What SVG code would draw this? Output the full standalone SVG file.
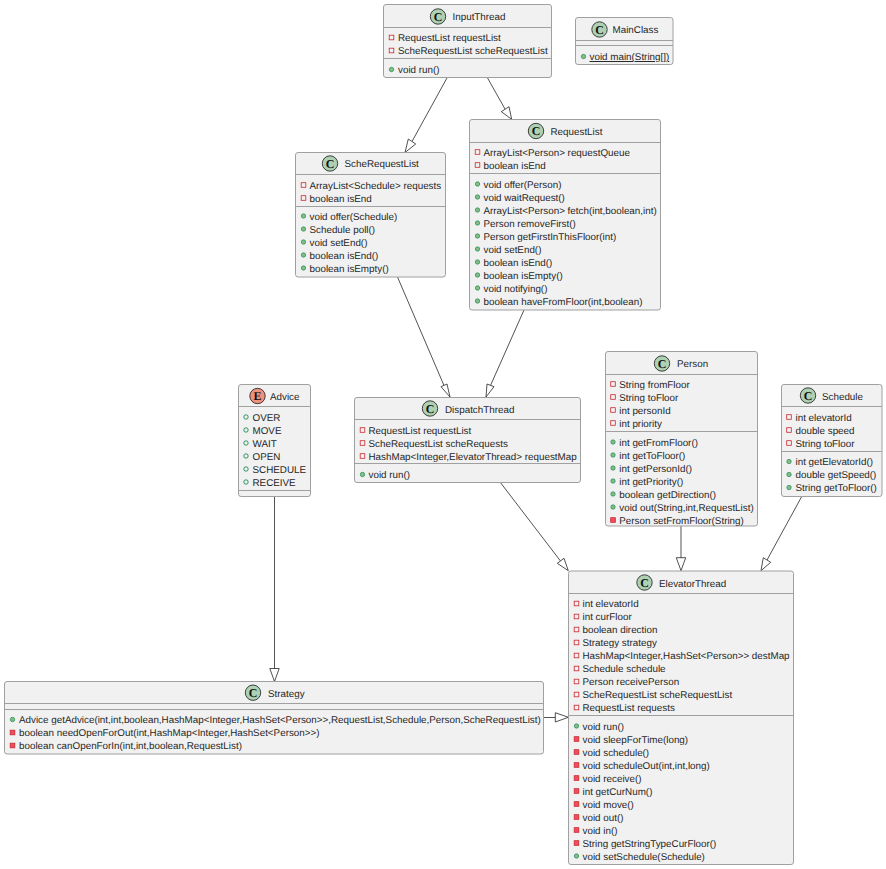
<svg xmlns="http://www.w3.org/2000/svg" width="886" height="869" viewBox="0 0 886 869">
<style>
text{font-family:"Liberation Sans",Arial,sans-serif;font-size:9.83px;fill:#262626;text-rendering:geometricPrecision}
.b{fill:#f1f1f1;stroke:#a0a0a0;stroke-width:1}
.s{stroke:#a0a0a0;stroke-width:1;fill:none}
.t{text-anchor:start}
.ic{stroke:#181818;stroke-width:.8}
.c{fill:#add1b2}.e{fill:#eb937f}
text.l{font-family:"Liberation Serif",serif;font-weight:bold;font-size:12px;text-anchor:middle;fill:#111}
.pf{fill:none;stroke:#c82930;stroke-width:.8}
.pm{fill:#f24d5c;stroke:#c82930;stroke-width:.8}
.uf{fill:#84be84;stroke:#038048;stroke-width:.6}
.ef{fill:none;stroke:#038048;stroke-width:.8}
.cn{fill:none;stroke:#181818;stroke-width:.75}
.ah{fill:#fff;stroke:#181818;stroke-width:.75}
</style>
<defs>
<rect id="pf" class="pf" x="-2.300" y="-2.300" width="4.600" height="4.600"/>
<rect id="pm" class="pm" x="-2.300" y="-2.300" width="4.600" height="4.600"/>
<circle id="uf" class="uf" r="2.200"/>
<circle id="ef" class="ef" r="2.200"/>
</defs>
<g id="connectors">
<path class="cn" d="M447.500 77L412 141.500"/><path class="ah" d="M405 152.500L408.300 139L415.700 144Z"/>
<path class="cn" d="M487 77L505 109"/><path class="ah" d="M511.700 119.300L501.300 111.700L509 106.700Z"/>
<path class="cn" d="M397.500 277L444 385.500"/><path class="ah" d="M450 397L441 386.700L447 384Z"/>
<path class="cn" d="M524 310L490.500 385.500"/><path class="ah" d="M486 397L487 384L494 386.700Z"/>
<path class="cn" d="M500 482L560.500 561"/><path class="ah" d="M568.300 570.700L557.300 563.300L564 558.300Z"/>
<path class="cn" d="M681 526L681 558"/><path class="ah" d="M681 570.700L676.300 557.700L685.700 557.700Z"/>
<path class="cn" d="M802 496L767 560"/><path class="ah" d="M761 570.700L763.300 557.700L770.700 562.300Z"/>
<path class="cn" d="M274.500 496L274.500 669"/><path class="ah" d="M274.500 681.500L269.800 668.500L279.200 668.500Z"/>
<path class="cn" d="M543.500 717.500L555.500 717.500"/><path class="ah" d="M568.300 717.300L555.300 712.700L555.300 722Z"/>
</g>
<g id="InputThread">
<rect class="b" x="383.500" y="4.500" width="168" height="73" rx="2.500"/>
<path class="s" d="M383.500 27.500H551.500M383.500 58.500H551.500"/>
<circle class="ic c" cx="438" cy="16.500" r="7.700"/><text class="l" x="438" y="20.500">C</text>
<text class="t" x="452.500" y="20.300">InputThread</text>
<use href="#pf" x="391.500" y="37.500"/><text class="t" x="398" y="41">RequestList requestList</text>
<use href="#pf" x="391.500" y="50.500"/><text class="t" x="398" y="54">ScheRequestList scheRequestList</text>
<use href="#uf" x="391.500" y="69.500"/><text class="t" x="398" y="73">void run()</text>
</g>
<g id="MainClass">
<rect class="b" x="575.500" y="17.500" width="97.500" height="47" rx="2.500"/>
<path class="s" d="M575.500 40.500H673M575.500 45.500H673"/>
<circle class="ic c" cx="599.500" cy="29.500" r="7.700"/><text class="l" x="599.500" y="33.500">C</text>
<text class="t" x="612.500" y="33.300">MainClass</text>
<use href="#uf" x="583.500" y="56.500"/><text class="t" x="589.500" y="60" text-decoration="underline">void main(String[])</text>
</g>
<g id="RequestList">
<rect class="b" x="469.500" y="119.500" width="191" height="190.500" rx="2.500"/>
<path class="s" d="M469.500 142.500H660.500M469.500 173.500H660.500"/>
<circle class="ic c" cx="536" cy="131" r="7.700"/><text class="l" x="536" y="135">C</text>
<text class="t" x="550.500" y="135">RequestList</text>
<use href="#pf" x="477.500" y="152"/><text class="t" x="483.500" y="155.500">ArrayList&lt;Person&gt; requestQueue</text>
<use href="#pf" x="477.500" y="165"/><text class="t" x="483.500" y="168.500">boolean isEnd</text>
<use href="#uf" x="477.500" y="184"/><text class="t" x="483.500" y="187.500">void offer(Person)</text>
<use href="#uf" x="477.500" y="197"/><text class="t" x="483.500" y="200.500">void waitRequest()</text>
<use href="#uf" x="477.500" y="210"/><text class="t" x="483.500" y="213.500">ArrayList&lt;Person&gt; fetch(int,boolean,int)</text>
<use href="#uf" x="477.500" y="223"/><text class="t" x="483.500" y="226.500">Person removeFirst()</text>
<use href="#uf" x="477.500" y="236"/><text class="t" x="483.500" y="239.500">Person getFirstInThisFloor(int)</text>
<use href="#uf" x="477.500" y="249"/><text class="t" x="483.500" y="252.500">void setEnd()</text>
<use href="#uf" x="477.500" y="262"/><text class="t" x="483.500" y="265.500">boolean isEnd()</text>
<use href="#uf" x="477.500" y="275"/><text class="t" x="483.500" y="278.500">boolean isEmpty()</text>
<use href="#uf" x="477.500" y="288"/><text class="t" x="483.500" y="291.500">void notifying()</text>
<use href="#uf" x="477.500" y="301"/><text class="t" x="483.500" y="304.500">boolean haveFromFloor(int,boolean)</text>
</g>
<g id="ScheRequestList">
<rect class="b" x="295.500" y="152.500" width="150" height="124.500" rx="2.500"/>
<path class="s" d="M295.500 174.500H445.500M295.500 206.500H445.500"/>
<circle class="ic c" cx="330" cy="163.500" r="7.700"/><text class="l" x="330" y="167.500">C</text>
<text class="t" x="344.500" y="167.300">ScheRequestList</text>
<use href="#pf" x="303.500" y="185"/><text class="t" x="309.500" y="188.500">ArrayList&lt;Schedule&gt; requests</text>
<use href="#pf" x="303.500" y="198"/><text class="t" x="309.500" y="201.500">boolean isEnd</text>
<use href="#uf" x="303.500" y="216"/><text class="t" x="309.500" y="219.500">void offer(Schedule)</text>
<use href="#uf" x="303.500" y="229"/><text class="t" x="309.500" y="232.500">Schedule poll()</text>
<use href="#uf" x="303.500" y="242"/><text class="t" x="309.500" y="245.500">void setEnd()</text>
<use href="#uf" x="303.500" y="255"/><text class="t" x="309.500" y="258.500">boolean isEnd()</text>
<use href="#uf" x="303.500" y="268"/><text class="t" x="309.500" y="271.500">boolean isEmpty()</text>
</g>
<g id="Advice">
<rect class="b" x="238.500" y="384.500" width="72" height="112" rx="2.500"/>
<path class="s" d="M238.500 406.500H310.500M238.500 490.500H310.500"/>
<circle class="ic e" cx="257.500" cy="396" r="7.700"/><text class="l" x="257.500" y="400">E</text>
<text class="t" x="270" y="400">Advice</text>
<use href="#ef" x="246" y="417"/><text class="t" x="252.500" y="420.500">OVER</text>
<use href="#ef" x="246" y="430"/><text class="t" x="252.500" y="433.500">MOVE</text>
<use href="#ef" x="246" y="443"/><text class="t" x="252.500" y="446.500">WAIT</text>
<use href="#ef" x="246" y="456"/><text class="t" x="252.500" y="459.500">OPEN</text>
<use href="#ef" x="246" y="469"/><text class="t" x="252.500" y="472.500">SCHEDULE</text>
<use href="#ef" x="246" y="482"/><text class="t" x="252.500" y="485.500">RECEIVE</text>
</g>
<g id="DispatchThread">
<rect class="b" x="354.500" y="397.500" width="226" height="85" rx="2.500"/>
<path class="s" d="M354.500 419.500H580.500M354.500 463.500H580.500"/>
<circle class="ic c" cx="430" cy="408.500" r="7.700"/><text class="l" x="430" y="412.500">C</text>
<text class="t" x="445" y="412.500">DispatchThread</text>
<use href="#pf" x="362.500" y="430"/><text class="t" x="368.500" y="433.500">RequestList requestList</text>
<use href="#pf" x="362.500" y="443"/><text class="t" x="368.500" y="446.500">ScheRequestList scheRequests</text>
<use href="#pf" x="362.500" y="456"/><text class="t" x="368.500" y="459.500">HashMap&lt;Integer,ElevatorThread&gt; requestMap</text>
<use href="#uf" x="362.500" y="474.500"/><text class="t" x="368.500" y="478">void run()</text>
</g>
<g id="Person">
<rect class="b" x="605.500" y="351.500" width="152" height="174.500" rx="2.500"/>
<path class="s" d="M605.500 374.500H757.500M605.500 431.500H757.500"/>
<circle class="ic c" cx="662" cy="363.500" r="7.700"/><text class="l" x="662" y="367.500">C</text>
<text class="t" x="677" y="367">Person</text>
<use href="#pf" x="613" y="384"/><text class="t" x="619.300" y="387.500">String fromFloor</text>
<use href="#pf" x="613" y="397"/><text class="t" x="619.300" y="400.500">String toFloor</text>
<use href="#pf" x="613" y="410"/><text class="t" x="619.300" y="413.500">int personId</text>
<use href="#pf" x="613" y="423"/><text class="t" x="619.300" y="426.500">int priority</text>
<use href="#uf" x="613" y="442"/><text class="t" x="619.300" y="445.500">int getFromFloor()</text>
<use href="#uf" x="613" y="455"/><text class="t" x="619.300" y="458.500">int getToFloor()</text>
<use href="#uf" x="613" y="468"/><text class="t" x="619.300" y="471.500">int getPersonId()</text>
<use href="#uf" x="613" y="481"/><text class="t" x="619.300" y="484.500">int getPriority()</text>
<use href="#uf" x="613" y="494"/><text class="t" x="619.300" y="497.500">boolean getDirection()</text>
<use href="#uf" x="613" y="507"/><text class="t" x="619.300" y="510.500">void out(String,int,RequestList)</text>
<use href="#pm" x="613" y="520"/><text class="t" x="619.300" y="523.500">Person setFromFloor(String)</text>
</g>
<g id="Schedule">
<rect class="b" x="781.500" y="384.500" width="100.500" height="112" rx="2.500"/>
<path class="s" d="M781.500 406.500H882M781.500 451.500H882"/>
<circle class="ic c" cx="808" cy="395.500" r="7.700"/><text class="l" x="808" y="399.500">C</text>
<text class="t" x="822" y="399.700">Schedule</text>
<use href="#pf" x="789" y="417"/><text class="t" x="795.500" y="420.500">int elevatorId</text>
<use href="#pf" x="789" y="430"/><text class="t" x="795.500" y="433.500">double speed</text>
<use href="#pf" x="789" y="443"/><text class="t" x="795.500" y="446.500">String toFloor</text>
<use href="#uf" x="789" y="461.500"/><text class="t" x="795.500" y="465">int getElevatorId()</text>
<use href="#uf" x="789" y="474.500"/><text class="t" x="795.500" y="478">double getSpeed()</text>
<use href="#uf" x="789" y="487.500"/><text class="t" x="795.500" y="491">String getToFloor()</text>
</g>
<g id="Strategy">
<rect class="b" x="4.500" y="681.500" width="539" height="72.500" rx="2.500"/>
<path class="s" d="M4.500 703.500H543.500M4.500 709.500H543.500"/>
<circle class="ic c" cx="253" cy="692.700" r="7.700"/><text class="l" x="253" y="696.700">C</text>
<text class="t" x="268" y="697">Strategy</text>
<use href="#uf" x="12.500" y="719.500"/><text class="t" x="19" y="723">Advice getAdvice(int,int,boolean,HashMap&lt;Integer,HashSet&lt;Person&gt;&gt;,RequestList,Schedule,Person,ScheRequestList)</text>
<use href="#pm" x="12.500" y="732.500"/><text class="t" x="19" y="736">boolean needOpenForOut(int,HashMap&lt;Integer,HashSet&lt;Person&gt;&gt;)</text>
<use href="#pm" x="12.500" y="745.500"/><text class="t" x="19" y="749">boolean canOpenForIn(int,int,boolean,RequestList)</text>
</g>
<g id="ElevatorThread">
<rect class="b" x="568.500" y="571" width="225" height="293.500" rx="2.500"/>
<path class="s" d="M568.500 593.500H793.500M568.500 715.500H793.500"/>
<circle class="ic c" cx="644.500" cy="582.500" r="7.700"/><text class="l" x="644.500" y="586.500">C</text>
<text class="t" x="659" y="586.500">ElevatorThread</text>
<use href="#pf" x="576.500" y="603.500"/><text class="t" x="582.500" y="607">int elevatorId</text>
<use href="#pf" x="576.500" y="616.500"/><text class="t" x="582.500" y="620">int curFloor</text>
<use href="#pf" x="576.500" y="629.500"/><text class="t" x="582.500" y="633">boolean direction</text>
<use href="#pf" x="576.500" y="642.500"/><text class="t" x="582.500" y="646">Strategy strategy</text>
<use href="#pf" x="576.500" y="655.500"/><text class="t" x="582.500" y="659">HashMap&lt;Integer,HashSet&lt;Person&gt;&gt; destMap</text>
<use href="#pf" x="576.500" y="668.500"/><text class="t" x="582.500" y="672">Schedule schedule</text>
<use href="#pf" x="576.500" y="681.500"/><text class="t" x="582.500" y="685">Person receivePerson</text>
<use href="#pf" x="576.500" y="694.500"/><text class="t" x="582.500" y="698">ScheRequestList scheRequestList</text>
<use href="#pf" x="576.500" y="707.500"/><text class="t" x="582.500" y="711">RequestList requests</text>
<use href="#uf" x="576.500" y="726"/><text class="t" x="582.500" y="729.500">void run()</text>
<use href="#pm" x="576.500" y="739"/><text class="t" x="582.500" y="742.500">void sleepForTime(long)</text>
<use href="#pm" x="576.500" y="752"/><text class="t" x="582.500" y="755.500">void schedule()</text>
<use href="#pm" x="576.500" y="765"/><text class="t" x="582.500" y="768.500">void scheduleOut(int,int,long)</text>
<use href="#pm" x="576.500" y="778"/><text class="t" x="582.500" y="781.500">void receive()</text>
<use href="#pm" x="576.500" y="791"/><text class="t" x="582.500" y="794.500">int getCurNum()</text>
<use href="#pm" x="576.500" y="804"/><text class="t" x="582.500" y="807.500">void move()</text>
<use href="#pm" x="576.500" y="817"/><text class="t" x="582.500" y="820.500">void out()</text>
<use href="#pm" x="576.500" y="830"/><text class="t" x="582.500" y="833.500">void in()</text>
<use href="#pm" x="576.500" y="843"/><text class="t" x="582.500" y="846.500">String getStringTypeCurFloor()</text>
<use href="#uf" x="576.500" y="856"/><text class="t" x="582.500" y="859.500">void setSchedule(Schedule)</text>
</g>
</svg>
